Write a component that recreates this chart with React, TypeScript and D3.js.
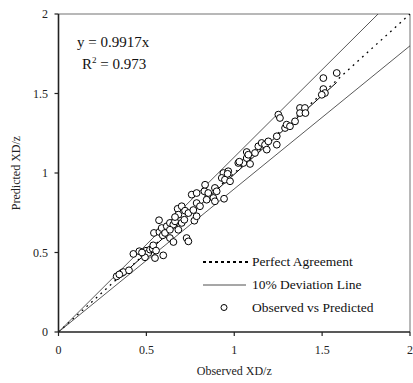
import React from "react";
import * as d3 from "d3";

const observed = [
  0.331, 0.360, 0.369, 0.401, 0.426, 0.460, 0.483, 0.498, 0.511, 0.521, 0.536, 0.539, 0.492, 0.549, 0.596,
  0.543, 0.574, 0.593, 0.572, 0.678, 0.701, 0.682, 0.720, 0.739, 0.758, 0.786, 0.830, 0.852, 0.786, 0.805,
  0.587, 0.616, 0.634, 0.653, 0.663, 0.606, 0.634, 0.701, 0.716, 0.682, 0.773, 0.786, 0.634, 0.729, 0.739,
  0.654, 0.834, 0.852, 0.890, 0.900, 0.881, 0.843, 0.890, 0.942, 0.938, 0.966, 0.929, 0.947, 0.976, 1.023,
  1.052, 1.071, 1.090, 1.071, 1.118, 1.080, 1.137, 1.156, 1.175, 1.185, 1.194, 1.242, 1.251, 1.260, 1.242,
  1.289, 1.298, 1.317, 1.346, 1.374, 1.374, 1.402, 1.405, 1.507, 1.507, 1.516, 1.498, 1.583, 0.767, 0.663,
  0.346, 0.475, 0.555, 1.029, 0.962,
];
const predicted = [
  0.350, 0.371, 0.377, 0.388, 0.491, 0.508, 0.491, 0.511, 0.497, 0.518, 0.524, 0.545, 0.470, 0.465, 0.482,
  0.623, 0.629, 0.608, 0.703, 0.775, 0.791, 0.738, 0.763, 0.748, 0.864, 0.874, 0.885, 0.853, 0.811, 0.791,
  0.654, 0.665, 0.686, 0.675, 0.696, 0.623, 0.643, 0.686, 0.706, 0.643, 0.700, 0.728, 0.591, 0.591, 0.570,
  0.566, 0.926, 0.874, 0.906, 0.885, 0.843, 0.832, 0.822, 0.838, 1.000, 1.011, 0.969, 0.958, 0.948, 1.063,
  1.063, 1.094, 1.057, 1.132, 1.126, 1.115, 1.168, 1.189, 1.178, 1.147, 1.199, 1.178, 1.367, 1.346, 1.231,
  1.283, 1.304, 1.294, 1.325, 1.409, 1.377, 1.409, 1.377, 1.597, 1.528, 1.503, 1.492, 1.629, 0.767, 0.723,
  0.362, 0.500, 0.512, 1.071, 0.995,
];

const xTicks = [0, 0.5, 1, 1.5, 2];
const yTicks = [0, 0.5, 1, 1.5, 2];
const slope = 0.9917;
const legendLabels = ["Perfect Agreement", "10% Deviation Line", "Observed vs Predicted"];

export default function App() {
  const W = 413, H = 383;
  const x = d3.scaleLinear().domain([0, 2]).range([58.5, 410]);
  const y = d3.scaleLinear().domain([0, 2]).range([332, 14]);
  const font = "'Liberation Serif', 'Times New Roman', serif";
  const line = d3.line<[number, number]>().x((d) => x(d[0])).y((d) => y(d[1]));
  const xmin = d3.min(observed) as number;
  const xmax = d3.max(observed) as number;

  return (
    <svg width={W} height={H} style={{ position: "absolute", left: 0, top: 0, background: "#fff" }} fontFamily={font}>
      <defs>
        <clipPath id="plot">
          <rect x={x(0)} y={y(2)} width={x(2) - x(0)} height={y(0) - y(2)} />
        </clipPath>
      </defs>
      {/* frame */}
      <line x1={x(0)} x2={x(2)} y1={y(2)} y2={y(2)} stroke="#a0a0a0" strokeWidth={1.5} />
      <line x1={x(2)} x2={x(2)} y1={y(2)} y2={y(0)} stroke="#a0a0a0" strokeWidth={1.5} />
      <g clipPath="url(#plot)">
        <path d={line([[0, 0], [2, 2]]) || ""} fill="none" stroke="#000" strokeWidth={1.3} strokeDasharray="1.8,4.5" />
        <path d={line([[0, 0], [2, 2 * 1.1]]) || ""} fill="none" stroke="#222" strokeWidth={0.75} />
        <path d={line([[0, 0], [2, 2 * 0.9]]) || ""} fill="none" stroke="#222" strokeWidth={0.75} />
        <path d={line([[xmin, slope * xmin], [xmax, slope * xmax]]) || ""} fill="none" stroke="#000" strokeWidth={1} />
        {observed.map((o, i) => (
          <circle key={i} cx={x(o)} cy={y(predicted[i])} r={3.4} fill="#fff" stroke="#000" strokeWidth={1} />
        ))}
      </g>
      {/* axes */}
      <line x1={x(0)} x2={x(2)} y1={y(0)} y2={y(0)} stroke="#222" strokeWidth={1.6} />
      <line x1={x(0)} x2={x(0)} y1={y(0)} y2={y(2)} stroke="#222" strokeWidth={1.6} />
      {xTicks.map((t) => (
        <g key={"x" + t}>
          <line x1={x(t)} x2={x(t)} y1={y(0)} y2={y(0) + 4} stroke="#222" strokeWidth={1.2} />
          <text x={x(t)} y={354} textAnchor="middle" fontSize={12} fill="#222">{String(t)}</text>
        </g>
      ))}
      {yTicks.map((t) => (
        <g key={"y" + t}>
          <line x1={x(0) - 4} x2={x(0)} y1={y(t)} y2={y(t)} stroke="#222" strokeWidth={1.2} />
          <text x={48} y={y(t)} dy="0.35em" textAnchor="end" fontSize={12} fill="#222">{String(t)}</text>
        </g>
      ))}
      <text x={x(1)} y={375} textAnchor="middle" fontSize={12} fill="#222">Observed XD/z</text>
      <text transform={`translate(20,${y(1)}) rotate(-90)`} textAnchor="middle" fontSize={12} fill="#222">Predicted XD/z</text>
      {/* equation */}
      <text x={77} y={47} fontSize={15} fill="#111">y = 0.9917x</text>
      <text x={82} y={69} fontSize={15} fill="#111">
        R<tspan dy={-6} fontSize={9}>2</tspan><tspan dy={6}> = 0.973</tspan>
      </text>
      {/* legend */}
      <line x1={203} x2={248} y1={262} y2={262} stroke="#000" strokeWidth={2} strokeDasharray="3,3" />
      <text x={252} y={266} fontSize={13.5} fill="#111">{legendLabels[0]}</text>
      <line x1={203} x2={246} y1={285} y2={285} stroke="#222" strokeWidth={0.8} />
      <text x={252} y={289} fontSize={13.5} fill="#111">{legendLabels[1]}</text>
      <circle cx={224} cy={307.5} r={3} fill="#fff" stroke="#000" strokeWidth={1} />
      <text x={252} y={312} fontSize={13.5} fill="#111">{legendLabels[2]}</text>
    </svg>
  );
}
